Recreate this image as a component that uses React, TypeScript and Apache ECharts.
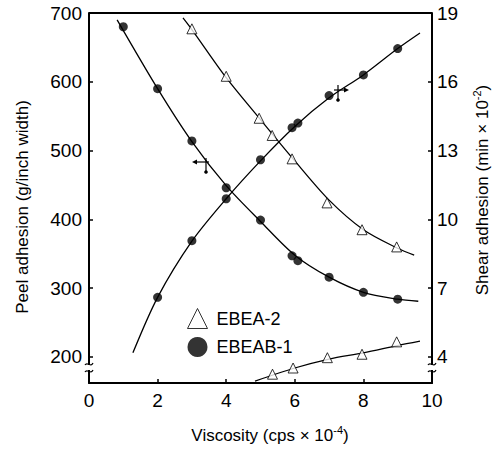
import React, { useEffect, useRef } from "react";
import * as echarts from "echarts";

const xTicks = [0, 2, 4, 6, 8, 10];
const peelTicks = [200, 300, 400, 500, 600, 700];
const shearTicks = [4, 7, 10, 13, 16, 19];

// EBEAB-1 (filled circles)
const ebeab1PeelX = [1, 2, 3, 4, 5, 5.92, 6.09, 7, 8, 9];
const ebeab1PeelY = [680, 590, 514, 446, 399, 347, 340, 316, 294, 284];
const ebeab1ShearX = [2, 3, 4, 5, 5.92, 6.09, 7, 8, 9];
const ebeab1ShearY = [6.6, 9.07, 10.9, 12.6, 14.0, 14.2, 15.4, 16.3, 17.45];
// EBEA-2 (open triangles)
const ebea2PeelX = [3, 4, 4.96, 5.34, 5.92, 6.94, 7.96, 8.97];
const ebea2PeelY = [677, 608, 547, 522, 488, 424, 385, 360];
const ebea2ShearX = [5.35, 5.95, 6.95, 7.96, 8.97];
const ebea2ShearY = [3.25, 3.52, 3.97, 4.12, 4.66];

// fitted curves
const fitPeel1X = [0.82, 2, 3, 4, 5, 6, 7, 8, 9, 9.6];
const fitPeel1Y = [690, 590, 513, 449, 397, 348, 316, 294, 284, 281];
const fitShear1X = [1.28, 2, 3, 4, 5, 6, 7, 8, 9, 9.65];
const fitShear1Y = [4.18, 6.6, 9.05, 10.9, 12.55, 14.05, 15.3, 16.3, 17.45, 18.13];
const fitPeel2X = [2.74, 3, 4, 5, 6, 7, 8, 9, 9.48];
const fitPeel2Y = [693, 676, 606, 545, 485, 428, 385, 358, 348];
const fitShear2X = [4.84, 6, 7, 8, 9, 9.65];
const fitShear2Y = [2.95, 3.52, 3.91, 4.18, 4.5, 4.69];

const zip = (xs: number[], ys: number[]) => xs.map((x, i) => [x, ys[i]]);

const FONT = "'Liberation Sans', Arial, sans-serif";

export default function App() {
  const ref = useRef<HTMLDivElement>(null);
  useEffect(() => {
    const chart = echarts.init(ref.current!, null, { renderer: "svg" });
    const fitLine = (name: string, data: number[][], yAxisIndex: number) => ({
      name,
      type: "line",
      data,
      yAxisIndex,
      smooth: 0.3,
      showSymbol: false,
      symbol: "none",
      lineStyle: { color: "#000", width: 1.3 },
      silent: true,
      z: 2,
    });
    const circleStyle = { color: "#000" };
    const triStyle = { color: "#fff", borderColor: "#000", borderWidth: 1 };
    const option: any = {
      animation: false,
      backgroundColor: "#fff",
      textStyle: { fontFamily: FONT },
      grid: { left: 89, right: 68, top: 13, bottom: 66 },
      legend: {
        orient: "vertical",
        left: 182,
        top: 303,
        itemWidth: 20,
        itemHeight: 20,
        itemGap: 8,
        data: [
          { name: "EBEA-2", icon: "triangle", itemStyle: { color: "#fff", borderColor: "#000", borderWidth: 1 } },
          { name: "EBEAB-1", icon: "circle", itemStyle: { color: "#000" } },
        ],
        textStyle: { fontSize: 18, color: "#000", fontFamily: FONT, padding: [0, 0, 0, 4] },
      },
      xAxis: {
        type: "value",
        min: 0,
        max: 10,
        interval: 2,
        axisLine: { lineStyle: { color: "#000", width: 2 } },
        axisTick: { inside: true, length: 4, lineStyle: { color: "#000", width: 1.5 } },
        axisLabel: { fontSize: 19, color: "#000", margin: 8, fontFamily: FONT },
        splitLine: { show: false },
      },
      yAxis: [
        {
          type: "value",
          min: 162.2,
          max: 700,
          axisLine: { show: true, lineStyle: { color: "#000", width: 2 } },
          axisTick: { inside: true, length: 4, customValues: peelTicks, lineStyle: { color: "#000", width: 1.5 } },
          axisLabel: { fontSize: 19, color: "#000", margin: 7, customValues: peelTicks, fontFamily: FONT },
          splitLine: { show: false },
        },
        {
          type: "value",
          min: 2.866,
          max: 19,
          position: "right",
          axisLine: { show: true, lineStyle: { color: "#000", width: 2 } },
          axisTick: { inside: true, length: 4, customValues: shearTicks, lineStyle: { color: "#000", width: 1.5 } },
          axisLabel: { fontSize: 19, color: "#000", margin: 5, customValues: shearTicks, fontFamily: FONT },
          splitLine: { show: false },
        },
      ],
      series: [
        fitLine("fit1", zip(fitPeel1X, fitPeel1Y), 0),
        fitLine("fit2", zip(fitShear1X, fitShear1Y), 1),
        fitLine("fit3", zip(fitPeel2X, fitPeel2Y), 0),
        fitLine("fit4", zip(fitShear2X, fitShear2Y), 1),
        { name: "EBEAB-1", type: "scatter", yAxisIndex: 0, symbol: "circle", symbolSize: 9, itemStyle: circleStyle, data: zip(ebeab1PeelX, ebeab1PeelY), z: 3 },
        { name: "EBEAB-1", type: "scatter", yAxisIndex: 1, symbol: "circle", symbolSize: 9, itemStyle: circleStyle, data: zip(ebeab1ShearX, ebeab1ShearY), z: 3 },
        { name: "EBEA-2", type: "scatter", yAxisIndex: 0, symbol: "triangle", symbolSize: 10, itemStyle: triStyle, data: zip(ebea2PeelX, ebea2PeelY), z: 3 },
        { name: "EBEA-2", type: "scatter", yAxisIndex: 1, symbol: "triangle", symbolSize: 10, itemStyle: triStyle, data: zip(ebea2ShearX, ebea2ShearY), z: 3 },
      ],
      graphic: [
        // top frame line
        { type: "line", shape: { x1: 89, y1: 13, x2: 432, y2: 13 }, style: { stroke: "#000", lineWidth: 2 } },
        // axis titles
        {
          type: "text",
          x: 270,
          y: 435,
          style: {
            text: "{n|Viscosity (cps × 10}{s|-4}{n|)}",
            align: "center",
            verticalAlign: "middle",
            rich: {
              n: { fontSize: 17, fontFamily: FONT, fill: "#000", lineHeight: 22 },
              s: { fontSize: 11, fontFamily: FONT, fill: "#000", lineHeight: 22, verticalAlign: "top" },
            },
          },
        },
        {
          type: "text",
          x: 22,
          y: 207,
          rotation: Math.PI / 2,
          style: { text: "Peel adhesion (g/inch width)", fontSize: 17, fontFamily: FONT, fill: "#000", align: "center", verticalAlign: "middle" },
        },
        {
          type: "text",
          x: 482,
          y: 190,
          rotation: Math.PI / 2,
          style: {
            text: "{n|Shear adhesion (min × 10}{s|-2}{n|)}",
            align: "center",
            verticalAlign: "middle",
            rich: {
              n: { fontSize: 17, fontFamily: FONT, fill: "#000", lineHeight: 22 },
              s: { fontSize: 11, fontFamily: FONT, fill: "#000", lineHeight: 22, verticalAlign: "top" },
            },
          },
        },
        // axis break marks
        { type: "rect", shape: { x: 84, y: 365, width: 10, height: 5 }, style: { fill: "#fff" }, z: 100 },
        { type: "bezierCurve", shape: { x1: 85, y1: 365, cpx1: 87, cpy1: 361, cpx2: 91, cpy2: 368, x2: 93, y2: 363 }, style: { stroke: "#000", lineWidth: 1.2, fill: null }, z: 101 },
        { type: "bezierCurve", shape: { x1: 85, y1: 372, cpx1: 87, cpy1: 368, cpx2: 91, cpy2: 375, x2: 93, y2: 370 }, style: { stroke: "#000", lineWidth: 1.2, fill: null }, z: 101 },
        { type: "rect", shape: { x: 427, y: 365, width: 10, height: 5 }, style: { fill: "#fff" }, z: 100 },
        { type: "bezierCurve", shape: { x1: 428, y1: 365, cpx1: 430, cpy1: 361, cpx2: 434, cpy2: 368, x2: 436, y2: 363 }, style: { stroke: "#000", lineWidth: 1.2, fill: null }, z: 101 },
        { type: "bezierCurve", shape: { x1: 428, y1: 372, cpx1: 430, cpy1: 368, cpx2: 434, cpy2: 375, x2: 436, y2: 370 }, style: { stroke: "#000", lineWidth: 1.2, fill: null }, z: 101 },
        // axis indicator arrows
        { type: "line", shape: { x1: 194, y1: 162, x2: 209, y2: 162 }, style: { stroke: "#000", lineWidth: 1.2 } },
        { type: "polygon", shape: { points: [[192, 162], [197, 159.5], [197, 164.5]] }, style: { fill: "#000" } },
        { type: "line", shape: { x1: 206, y1: 158, x2: 206, y2: 172 }, style: { stroke: "#000", lineWidth: 1.2 } },
        { type: "circle", shape: { cx: 206, cy: 172, r: 1.8 }, style: { fill: "#000" } },
        { type: "line", shape: { x1: 334, y1: 90, x2: 347, y2: 90 }, style: { stroke: "#000", lineWidth: 1.2 } },
        { type: "polygon", shape: { points: [[349, 90], [344, 87.5], [344, 92.5]] }, style: { fill: "#000" } },
        { type: "line", shape: { x1: 338, y1: 85, x2: 338, y2: 100 }, style: { stroke: "#000", lineWidth: 1.2 } },
        { type: "circle", shape: { cx: 338, cy: 100, r: 1.8 }, style: { fill: "#000" } },
      ],
    };
    chart.setOption(option);
    return () => chart.dispose();
  }, []);
  return <div ref={ref} style={{ position: "fixed", left: 0, top: 0, width: 500, height: 449 }} />;
}
